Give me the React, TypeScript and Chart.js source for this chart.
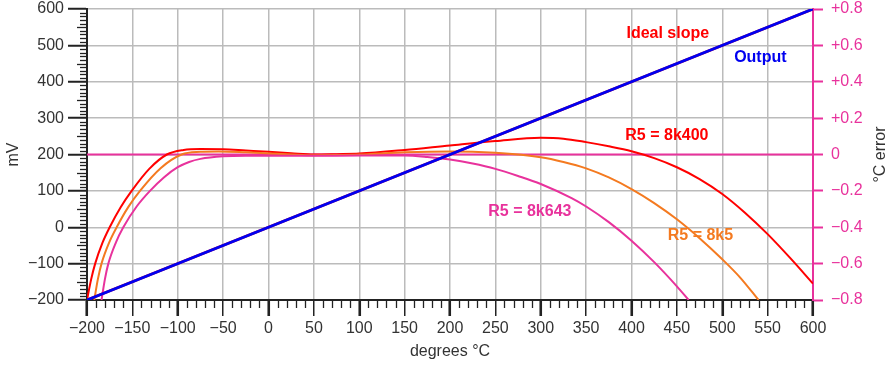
import React, { useEffect, useRef } from "react";
import { Chart, registerables } from "chart.js";

Chart.register(...registerables);

const FONT = '"Liberation Sans", Arial, Helvetica, sans-serif';

// Output / ideal slope (mV vs °C)
const outputT = [-200, 600];
const outputMV = [-200, 600];
const idealT = [-200, 600];
const idealMV = [-200, 600];

// Error curves (°C error vs °C)
const r8k400T = [-200, -195.5, -191, -183, -175, -162.9, -150.8, -131.4, -112, -93.5, -75, -50, -25, 0, 25, 50, 75, 100, 150, 200, 250, 300, 325, 350, 375, 400, 425, 450, 475, 500, 525, 550, 575, 600];
const r8k400E = [-0.8, -0.688, -0.6, -0.486, -0.4, -0.29, -0.2, -0.079, 0.0, 0.025, 0.03, 0.029, 0.022, 0.015, 0.007, 0.0, 0.002, 0.005, 0.025, 0.05, 0.074, 0.092, 0.087, 0.068, 0.045, 0.018, -0.02, -0.07, -0.135, -0.217, -0.32, -0.438, -0.57, -0.71];

const r8k5T = [-192, -188, -184, -175.6, -167.3, -154.4, -141.6, -118.6, -95.7, -75.4, -55, -25, 0, 25, 50, 75, 100, 150, 200, 250, 300, 325, 350, 375, 400, 425, 450, 475, 500, 520, 540];
const r8k5E = [-0.8, -0.685, -0.6, -0.484, -0.4, -0.288, -0.2, -0.074, 0.0, 0.0146, 0.017, 0.012, 0.006, 0.0, -0.004, -0.003, 0.0, 0.012, 0.017, 0.009, -0.015, -0.041, -0.076, -0.126, -0.19, -0.267, -0.356, -0.46, -0.576, -0.678, -0.8];

const r8k643T = [-184, -180.2, -176.5, -168.2, -160, -145.3, -130.6, -115.3, -100, -87.5, -75, -50, -25, 0, 50, 100, 150, 175, 200, 225, 250, 275, 300, 334, 350, 375, 400, 425, 450, 463];
const r8k643E = [-0.8, -0.684, -0.6, -0.484, -0.4, -0.286, -0.2, -0.126, -0.07, -0.041, -0.024, -0.01, -0.007, -0.007, -0.007, -0.006, -0.006, -0.014, -0.028, -0.05, -0.079, -0.118, -0.162, -0.24, -0.286, -0.372, -0.474, -0.592, -0.725, -0.8];

const zeroT = [-200, 600];
const zeroE = [0, 0];

// Annotations
const noteText = ["Ideal slope", "Output", "R5 = 8k400", "R5 = 8k643", "R5 = 8k5"];
const noteT = [440, 542, 439, 288, 476];
const noteMV = [533, 467, 252, 44, -23];

const RED = "#ff0000";
const ORANGE = "#f47a20";
const PINK = "#e8329c";
const BLUE = "#0000f0";
const noteColor = [RED, BLUE, RED, PINK, ORANGE];

const xTitle = "degrees °C";
const yTitle = "mV";
const y2Title = "°C error";

const pts = (t: number[], v: number[]) => t.map((x, i) => ({ x, y: v[i] }));
const minus = (s: string) => s.replace("-", "\u2212");

export default function App() {
  const ref = useRef<HTMLCanvasElement | null>(null);

  useEffect(() => {
    document.body.style.margin = "0";
    const canvas = ref.current;
    if (!canvas) return;

    const extras = {
      id: "extras",
      afterDraw(chart: any) {
        const ctx = chart.ctx as CanvasRenderingContext2D;
        const x = chart.scales.x;
        const y = chart.scales.y;
        const area = chart.chartArea;
        ctx.save();
        // minor ticks bottom
        ctx.strokeStyle = "#222";
        ctx.lineWidth = 1.3;
        for (let t = -200; t <= 600; t += 10) {
          if (t % 50 === 0) continue;
          const px = Math.round(x.getPixelForValue(t)) + 0.5;
          ctx.beginPath();
          ctx.moveTo(px, area.bottom);
          ctx.lineTo(px, area.bottom + 8);
          ctx.stroke();
        }
        // minor ticks left
        for (let v = -200; v <= 600; v += 10) {
          if (v % 100 === 0) continue;
          const py = Math.round(y.getPixelForValue(v)) + 0.5;
          const len = v % 50 === 0 ? 10 : 7;
          ctx.beginPath();
          ctx.moveTo(area.left - len, py);
          ctx.lineTo(area.left, py);
          ctx.stroke();
        }
        // axis titles
        ctx.fillStyle = "#333";
        ctx.font = `16px ${FONT}`;
        ctx.textAlign = "center";
        ctx.textBaseline = "middle";
        ctx.fillText(xTitle, (area.left + area.right) / 2, 352);
        ctx.save();
        ctx.translate(14, (area.top + area.bottom) / 2);
        ctx.rotate(-Math.PI / 2);
        ctx.fillText(yTitle, 0, 0);
        ctx.restore();
        ctx.save();
        ctx.translate(881, (area.top + area.bottom) / 2);
        ctx.rotate(-Math.PI / 2);
        ctx.fillText(y2Title, 0, 0);
        ctx.restore();
        // annotations
        ctx.font = `bold 16px ${FONT}`;
        noteText.forEach((txt, i) => {
          ctx.fillStyle = noteColor[i];
          ctx.fillText(txt, x.getPixelForValue(noteT[i]), y.getPixelForValue(noteMV[i]));
        });
        ctx.restore();
      },
    };

    const line = (data: any[], color: string, width: number, axis: string) => ({
      data,
      borderColor: color,
      backgroundColor: color,
      borderWidth: width,
      pointRadius: 0,
      fill: false,
      cubicInterpolationMode: "monotone" as const,
      yAxisID: axis,
    });

    const vFit = (w: number) => (s: any) => {
      s.width = w;
      s.paddingTop = 0;
      s.paddingBottom = 0;
    };

    const chart = new Chart(canvas, {
      type: "line",
      data: {
        datasets: [
          line(pts(outputT, outputMV), BLUE, 2.8, "y"),
          line(pts(idealT, idealMV), RED, 2.6, "y"),
          line(pts(r8k643T, r8k643E), PINK, 2, "y2"),
          line(pts(r8k5T, r8k5E), ORANGE, 2, "y2"),
          line(pts(r8k400T, r8k400E), RED, 2, "y2"),
          line(pts(zeroT, zeroE), PINK, 2, "y2"),
        ],
      },
      options: {
        animation: false,
        responsive: false,
        events: [],
        layout: { padding: { top: 9, left: 0, right: 0, bottom: 0 } },
        plugins: { legend: { display: false }, tooltip: { enabled: false } },
        scales: {
          x: {
            type: "linear",
            position: "bottom",
            min: -200,
            max: 600,
            ticks: {
              stepSize: 50,
              autoSkip: false,
              maxRotation: 0,
              padding: 3,
              color: "#333",
              font: { size: 16, family: FONT },
              callback: (v: any) => minus(String(Math.round(Number(v)))),
            },
            grid: {
              color: (c: any) => (c.tick && c.tick.value === 600 ? "rgba(0,0,0,0)" : "#bbbbbb"),
              lineWidth: 1.5,
              tickLength: 16,
              tickColor: "#222",
              tickWidth: (c: any) => (c.tick && c.tick.value % 100 === 0 ? 2.6 : 1.5),
            },
            border: { color: "#222", width: 2 },
            afterFit: (s: any) => {
              s.height = 66;
              s.paddingLeft = 0;
              s.paddingRight = 0;
            },
          },
          y: {
            type: "linear",
            position: "left",
            min: -200,
            max: 600,
            ticks: {
              stepSize: 100,
              padding: 4,
              color: "#333",
              font: { size: 16, family: FONT },
              callback: (v: any) => minus(String(Math.round(Number(v)))),
            },
            grid: {
              color: "#bbbbbb",
              lineWidth: 1.5,
              tickLength: 19,
              tickColor: "#222",
              tickWidth: 2,
            },
            border: { color: "#222", width: 2 },
            afterFit: vFit(87),
          },
          y2: {
            type: "linear",
            position: "right",
            min: -0.8,
            max: 0.8,
            ticks: {
              stepSize: 0.2,
              padding: 8,
              color: PINK,
              font: { size: 16, family: FONT },
              callback: (v: any) => {
                const n = Math.round(Number(v) * 10) / 10;
                if (n === 0) return "0";
                return n > 0 ? "+" + n.toFixed(1) : "\u2212" + Math.abs(n).toFixed(1);
              },
            },
            grid: {
              drawOnChartArea: false,
              tickLength: 10,
              tickColor: PINK,
              tickWidth: 2,
            },
            border: { color: PINK, width: 2 },
            afterFit: vFit(79),
          },
        },
      },
      plugins: [extras],
    });

    return () => chart.destroy();
  }, []);

  return (
    <div style={{ width: 892, height: 366 }}>
      <canvas ref={ref} width={892} height={366} />
    </div>
  );
}
